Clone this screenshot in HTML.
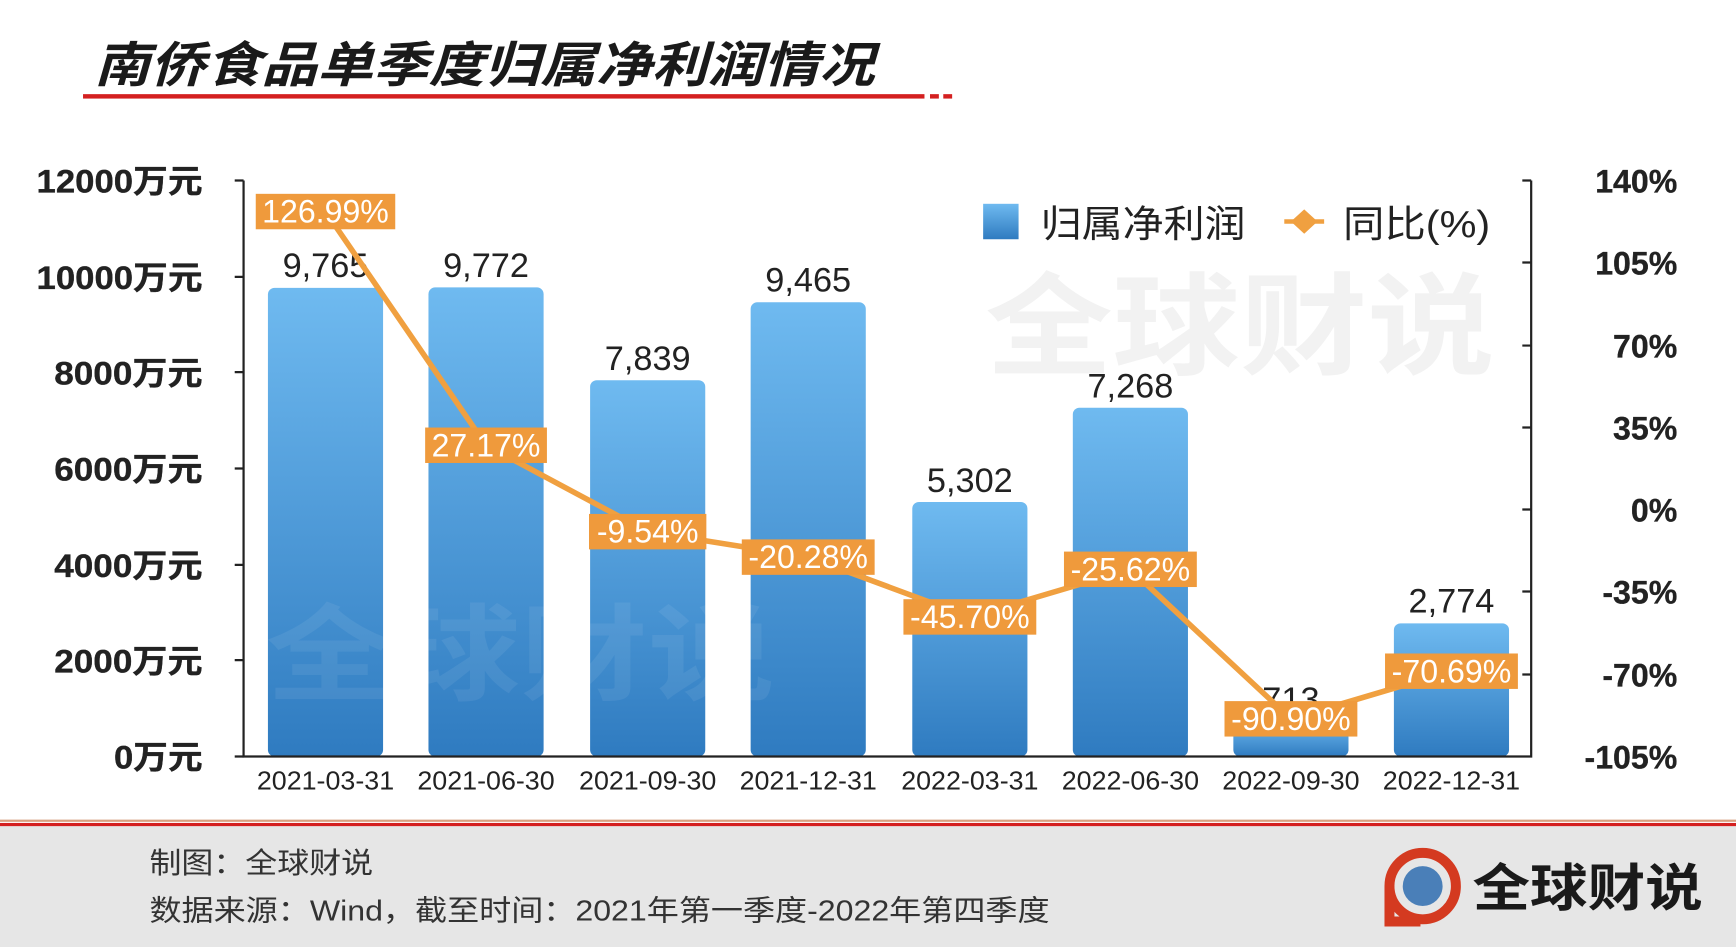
<!DOCTYPE html>
<html><head><meta charset="utf-8"><style>
html,body{margin:0;padding:0;background:#fff;overflow:hidden}
svg{display:block}
text{font-family:"Liberation Sans","Noto Sans CJK SC",sans-serif}
</style></head><body>
<svg width="1736" height="947" viewBox="0 0 1568 855" preserveAspectRatio="none" xmlns="http://www.w3.org/2000/svg">
<defs>
<linearGradient id="g" x1="0" y1="0" x2="0" y2="1"><stop offset="0" stop-color="#6fbaf0"/><stop offset="1" stop-color="#2f7bc0"/></linearGradient>
</defs>
<rect width="1568" height="855" fill="#fff"/>
<text x="85" y="74" font-size="44" font-weight="bold" font-style="italic" fill="#1a1a1a" textLength="705" lengthAdjust="spacingAndGlyphs">南侨食品单季度归属净利润情况</text>
<rect x="75" y="85" width="760" height="4" fill="#d42020"/>
<rect x="840" y="85" width="8" height="4" fill="#d42020"/>
<rect x="852" y="85" width="8" height="4" fill="#d42020"/>
<text x="890" y="330" font-size="100" font-weight="bold" fill="#f2f2f2" textLength="460" lengthAdjust="spacingAndGlyphs">全球财说</text>
<g fill="url(#g)">
<rect x="242" y="259.9" width="104" height="423.1" rx="6"/>
<rect x="387" y="259.5" width="104" height="423.5" rx="6"/>
<rect x="533" y="343.3" width="104" height="339.7" rx="6"/>
<rect x="678" y="272.9" width="104" height="410.1" rx="6"/>
<rect x="824" y="453.2" width="104" height="229.8" rx="6"/>
<rect x="969" y="368.1" width="104" height="314.9" rx="6"/>
<rect x="1114" y="652.1" width="104" height="30.9" rx="6"/>
<rect x="1259" y="562.8" width="104" height="120.2" rx="6"/>
</g>
<text x="240" y="625" font-size="95" font-weight="bold" fill="#fff" fill-opacity="0.07" textLength="460" lengthAdjust="spacingAndGlyphs">全球财说</text>
<g stroke="#222" stroke-width="2" fill="none">
<path d="M220 163V683H1383V163"/>
<path d="M220 163h-8M220 250h-8M220 336h-8M220 423h-8M220 510h-8M220 596h-8M220 683h-8"/>
<path d="M1383 163h-8M1383 237h-8M1383 312h-8M1383 386h-8M1383 460h-8M1383 534h-8M1383 609h-8"/>
</g>
<g font-size="29" fill="#222" text-anchor="end" font-weight="bold" stroke="#222" stroke-width="0.3">
<text x="183" y="174" textLength="150" lengthAdjust="spacingAndGlyphs">12000万元</text><text x="183" y="261" textLength="150" lengthAdjust="spacingAndGlyphs">10000万元</text><text x="183" y="347" textLength="134" lengthAdjust="spacingAndGlyphs">8000万元</text><text x="183" y="434" textLength="134" lengthAdjust="spacingAndGlyphs">6000万元</text><text x="183" y="521" textLength="134" lengthAdjust="spacingAndGlyphs">4000万元</text><text x="183" y="607" textLength="134" lengthAdjust="spacingAndGlyphs">2000万元</text><text x="183" y="694" textLength="80" lengthAdjust="spacingAndGlyphs">0万元</text>
<text x="1515" y="174">140%</text><text x="1515" y="248">105%</text><text x="1515" y="323">70%</text><text x="1515" y="397">35%</text><text x="1515" y="471">0%</text><text x="1515" y="545">-35%</text><text x="1515" y="620">-70%</text><text x="1515" y="694">-105%</text>
</g>
<g font-size="23" fill="#222" text-anchor="middle">
<text x="294" y="713" textLength="124" lengthAdjust="spacingAndGlyphs">2021-03-31</text><text x="439" y="713" textLength="124" lengthAdjust="spacingAndGlyphs">2021-06-30</text><text x="585" y="713" textLength="124" lengthAdjust="spacingAndGlyphs">2021-09-30</text><text x="730" y="713" textLength="124" lengthAdjust="spacingAndGlyphs">2021-12-31</text><text x="876" y="713" textLength="124" lengthAdjust="spacingAndGlyphs">2022-03-31</text><text x="1021" y="713" textLength="124" lengthAdjust="spacingAndGlyphs">2022-06-30</text><text x="1166" y="713" textLength="124" lengthAdjust="spacingAndGlyphs">2022-09-30</text><text x="1311" y="713" textLength="124" lengthAdjust="spacingAndGlyphs">2022-12-31</text>
</g>
<g font-size="31" fill="#222" text-anchor="middle">
<text x="294" y="250">9,765</text><text x="439" y="250">9,772</text><text x="585" y="334">7,839</text><text x="730" y="263">9,465</text><text x="876" y="444">5,302</text><text x="1021" y="359">7,268</text><text x="1166" y="642">713</text><text x="1311" y="553">2,774</text>
</g>
<polyline points="294,191 439,402 585,480 730,503 876,557 1021,514 1166,649 1311,606" fill="none" stroke="#f0a040" stroke-width="5"/>
<g fill="#ef9a3c">
<rect x="231" y="175" width="126" height="32"/><rect x="384" y="386" width="110" height="32"/><rect x="532" y="464" width="106" height="32"/><rect x="670" y="487" width="120" height="32"/><rect x="816" y="541" width="120" height="32"/><rect x="961" y="498" width="120" height="32"/><rect x="1106" y="633" width="120" height="32"/><rect x="1251" y="590" width="120" height="32"/>
</g>
<g font-size="29" fill="#fff" text-anchor="middle">
<text x="294" y="201">126.99%</text><text x="439" y="412">27.17%</text><text x="585" y="490">-9.54%</text><text x="730" y="513">-20.28%</text><text x="876" y="567">-45.70%</text><text x="1021" y="524">-25.62%</text><text x="1166" y="659">-90.90%</text><text x="1311" y="616">-70.69%</text>
</g>
<rect x="888" y="184" width="32" height="32" fill="url(#g)"/>
<text x="940" y="214" font-size="34" fill="#222" textLength="185" lengthAdjust="spacingAndGlyphs">归属净利润</text>
<path d="M1166 200l12-11 12 11-12 11z" fill="#f0a040"/>
<path d="M1160 200h36" stroke="#f0a040" stroke-width="4"/>
<text x="1213" y="214" font-size="34" fill="#222" textLength="133" lengthAdjust="spacingAndGlyphs">同比(%)</text>
<rect x="0" y="740" width="1568" height="2" fill="#d9a080"/>
<rect x="0" y="743" width="1568" height="3" fill="#d42020"/>
<rect x="0" y="746" width="1568" height="109" fill="#e6e6e6"/>
<text x="135" y="788" font-size="26" fill="#333" textLength="202" lengthAdjust="spacingAndGlyphs">制图：全球财说</text>
<text x="135" y="831" font-size="26" fill="#333" textLength="813" lengthAdjust="spacingAndGlyphs">数据来源：Wind，截至时间：2021年第一季度-2022年第四季度</text>
<circle cx="1285" cy="800" r="30" fill="none" stroke="#d43a20" stroke-width="9"/>
<path d="M1255 800v32h28" fill="none" stroke="#d43a20" stroke-width="9"/>
<circle cx="1285" cy="800" r="18" fill="#4a7fb8"/>
<text x="1330" y="818" font-size="46" font-weight="bold" fill="#1a1a1a" textLength="208" lengthAdjust="spacingAndGlyphs">全球财说</text>
</svg>
</body></html>
